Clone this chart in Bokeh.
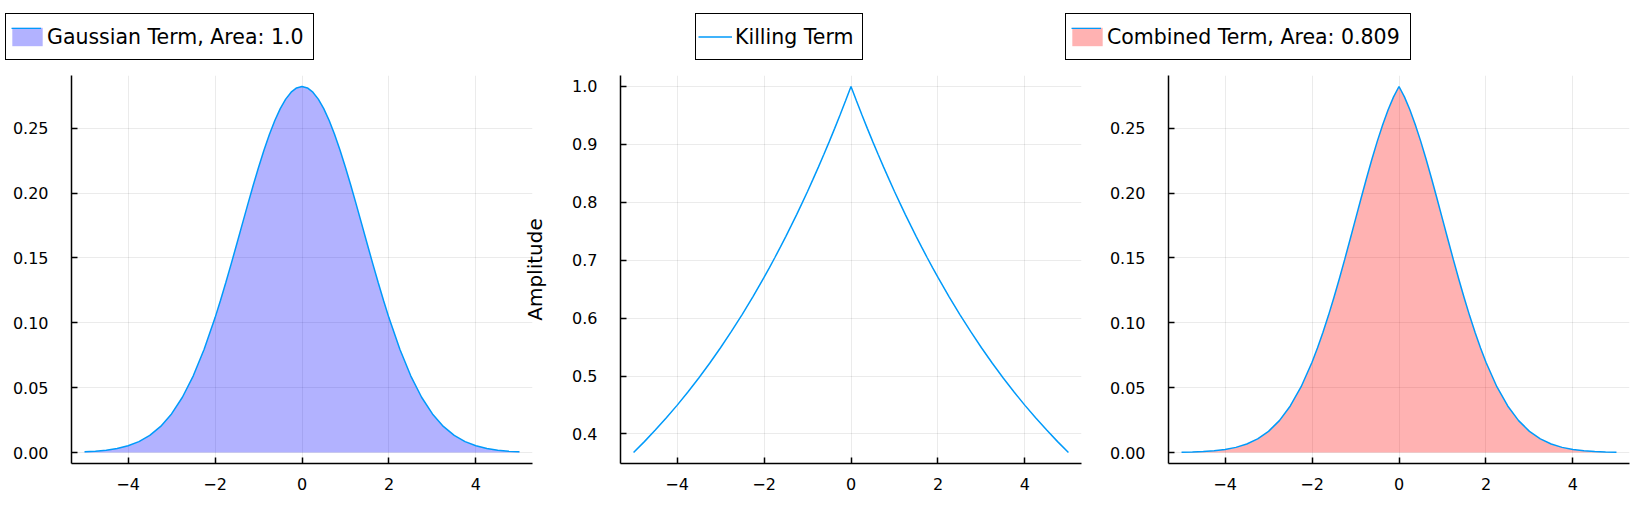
from bokeh.plotting import figure
from bokeh.models import Range1d, FixedTicker, Legend, LegendItem, NumeralTickFormatter
from bokeh.layouts import row, column
from bokeh.embed import file_html
from bokeh.resources import INLINE

# ---------------- data ----------------
x = [-5.0, -4.75, -4.5, -4.25, -4.0, -3.75, -3.5, -3.25, -3.0, -2.75, -2.5, -2.25, -2.0,
     -1.875, -1.75, -1.625, -1.5, -1.375, -1.25, -1.125, -1.0,
     -0.875, -0.75, -0.625, -0.5, -0.375, -0.25, -0.125, 0.0,
     0.125, 0.25, 0.375, 0.5, 0.625, 0.75, 0.875, 1.0,
     1.125, 1.25, 1.375, 1.5, 1.625, 1.75, 1.875,
     2.0, 2.25, 2.5, 2.75, 3.0, 3.25, 3.5, 3.75, 4.0, 4.25, 4.5, 4.75, 5.0]

gaussian = [0.00054, 0.00100, 0.00179, 0.00308, 0.00517, 0.00839, 0.01319, 0.02012,
            0.02973, 0.04259, 0.05913, 0.07957, 0.10378,
            0.11714, 0.13119, 0.14578, 0.16073, 0.17584, 0.19088, 0.20558, 0.21970,
            0.23295, 0.24509, 0.25585, 0.26500, 0.27235, 0.27772, 0.28100, 0.28210,
            0.28100, 0.27772, 0.27235, 0.26500, 0.25585, 0.24509, 0.23295, 0.21970,
            0.20558, 0.19088, 0.17584, 0.16073, 0.14578, 0.13119, 0.11714,
            0.10378, 0.07957, 0.05913, 0.04259, 0.02973, 0.02012, 0.01319, 0.00839,
            0.00517, 0.00308, 0.00179, 0.00100, 0.00054]

killing = [0.3679, 0.3867, 0.4066, 0.4274, 0.4493, 0.4724, 0.4966, 0.5220,
           0.5488, 0.5770, 0.6065, 0.6376, 0.6703,
           0.6873, 0.7047, 0.7225, 0.7408, 0.7596, 0.7788, 0.7985, 0.8187,
           0.8395, 0.8607, 0.8825, 0.9048, 0.9277, 0.9512, 0.9753, 1.0000,
           0.9753, 0.9512, 0.9277, 0.9048, 0.8825, 0.8607, 0.8395, 0.8187,
           0.7985, 0.7788, 0.7596, 0.7408, 0.7225, 0.7047, 0.6873,
           0.6703, 0.6376, 0.6065, 0.5770, 0.5488, 0.5220, 0.4966, 0.4724,
           0.4493, 0.4274, 0.4066, 0.3867, 0.3679]

combined = [0.00020, 0.00039, 0.00073, 0.00132, 0.00232, 0.00396, 0.00655, 0.01050,
            0.01632, 0.02457, 0.03586, 0.05074, 0.06956,
            0.08051, 0.09245, 0.10533, 0.11907, 0.13357, 0.14866, 0.16416, 0.17987,
            0.19555, 0.21095, 0.22579, 0.23979, 0.25267, 0.26418, 0.27406, 0.28210,
            0.27406, 0.26418, 0.25267, 0.23979, 0.22579, 0.21095, 0.19555, 0.17987,
            0.16416, 0.14866, 0.13357, 0.11907, 0.10533, 0.09245, 0.08051,
            0.06956, 0.05074, 0.03586, 0.02457, 0.01632, 0.01050, 0.00655, 0.00396,
            0.00232, 0.00132, 0.00073, 0.00039, 0.00020]

x_ticks = [-4, -2, 0, 2, 4]
x_tick_labels = ["\u22124", "\u22122", "0", "2", "4"]
density_y_ticks = [0.0, 0.05, 0.10, 0.15, 0.20, 0.25]
killing_y_ticks = [0.4, 0.5, 0.6, 0.7, 0.8, 0.9, 1.0]
legend_labels = ["Gaussian Term, Area: 1.0", "Killing Term", "Combined Term, Area: 0.809"]
y_label = "Amplitude"

# ---------------- style ----------------
FONT = "DejaVu Sans"
LINE = "#009AFA"
PAGE_W = 1644
LEG_H = 60
FRAME_W, FRAME_H = 461, 388
TOP, BOTTOM = 15, 43
LEG_FONT = "20.5px"


def padded(lo, hi, frac=0.03):
    d = (hi - lo) * frac
    return lo - d, hi + d


def make_fig(ylo, yhi, yticks, yfmt, bl, br, margin):
    x0, x1 = padded(min(x), max(x))
    y0, y1 = padded(ylo, yhi)
    p = figure(frame_width=FRAME_W, frame_height=FRAME_H,
               x_range=Range1d(x0, x1), y_range=Range1d(y0, y1),
               output_backend="svg", toolbar_location=None,
               min_border_left=bl, min_border_right=br,
               min_border_top=TOP, min_border_bottom=BOTTOM,
               border_fill_color=None, outline_line_color=None,
               background_fill_color="white", margin=margin)
    xt = FixedTicker(ticks=x_ticks)
    yt = FixedTicker(ticks=yticks)
    p.xaxis.ticker = xt
    p.yaxis.ticker = yt
    p.xgrid.ticker = xt
    p.ygrid.ticker = yt
    p.xaxis.major_label_overrides = dict(zip(x_ticks, x_tick_labels))
    p.yaxis.formatter = NumeralTickFormatter(format=yfmt)
    for ax in (p.xaxis[0], p.yaxis[0]):
        ax.axis_line_color = "black"
        ax.axis_line_width = 1.5
        ax.major_tick_line_color = "black"
        ax.major_tick_line_width = 1.5
        ax.major_tick_in = 6
        ax.major_tick_out = 0
        ax.minor_tick_line_color = None
        ax.major_label_text_font = FONT
        ax.major_label_text_font_size = "16px"
        ax.major_label_text_color = "black"
    p.xaxis.major_label_standoff = 14
    p.yaxis.major_label_standoff = 23
    for g in (p.xgrid[0], p.ygrid[0]):
        g.grid_line_color = "black"
        g.grid_line_alpha = 0.1
        g.grid_line_width = 0.8
    return p


def make_legend(items, loc, gw, standoff, lw):
    return Legend(items=items, location=loc, orientation="vertical",
                  padding=2, margin=0, spacing=0, label_standoff=standoff,
                  glyph_width=gw, glyph_height=23, label_width=lw, label_height=41,
                  label_text_font=FONT, label_text_font_size=LEG_FONT,
                  label_text_color="black",
                  border_line_color="black", border_line_width=1, border_line_alpha=1,
                  background_fill_color="white", background_fill_alpha=1)


def key_top_line(renderer, loc):
    # thin line drawn along the top edge of a filled legend key
    return Legend(items=[LegendItem(label="", renderers=[renderer])], location=loc,
                  padding=0, margin=0, spacing=0, label_standoff=0,
                  glyph_width=30, glyph_height=2, label_width=0, label_height=2,
                  label_text_font_size="1px",
                  border_line_color=None, background_fill_alpha=0)


ymin_d = min(0.0, min(gaussian))
ymax_d = max(gaussian)

# Panel 1: Gaussian term
p1 = make_fig(ymin_d, ymax_d, density_y_ticks, "0.00", 71, 28, (0, 0, 0, 0))
p1.varea(x=x, y1=0, y2=gaussian, fill_color="blue", fill_alpha=0.3)
p1.line(x=x, y=gaussian, line_color=LINE, line_width=1.5)

# Panel 2: Killing term
p2 = make_fig(min(killing), max(killing), killing_y_ticks, "0.0", 120, 28, (0, 0, 0, -60))
p2.line(x=x, y=killing, line_color=LINE, line_width=1.5)
p2.yaxis.axis_label = y_label
p2.yaxis.axis_label_text_font = FONT
p2.yaxis.axis_label_text_font_size = "20px"
p2.yaxis.axis_label_text_font_style = "normal"
p2.yaxis.axis_label_text_color = "black"
p2.yaxis.axis_label_standoff = 22

# Panel 3: Combined term
ymin_c = min(0.0, min(combined))
ymax_c = max(combined)
p3 = make_fig(ymin_c, ymax_c, density_y_ticks, "0.00", 118, 15, (0, 0, 0, -59))
p3.varea(x=x, y1=0, y2=combined, fill_color="red", fill_alpha=0.3)
p3.line(x=x, y=combined, line_color=LINE, line_width=1.5)

# Legend strip across the top (legend keys use hidden proxies of the same series)
lf = figure(frame_width=PAGE_W, frame_height=LEG_H, min_border=0,
            x_axis_type=None, y_axis_type=None, toolbar_location=None,
            output_backend="svg", outline_line_color=None,
            border_fill_color=None, background_fill_color=None,
            x_range=Range1d(0, 1), y_range=Range1d(0, 1))
k1 = lf.varea(x=x, y1=0, y2=gaussian, fill_color="blue", fill_alpha=0.3, visible=False)
k1l = lf.line(x=x, y=gaussian, line_color=LINE, line_width=1.5, visible=False)
k2 = lf.line(x=x, y=killing, line_color=LINE, line_width=1.5, visible=False)
k3 = lf.varea(x=x, y1=0, y2=combined, fill_color="red", fill_alpha=0.3, visible=False)
k3l = lf.line(x=x, y=combined, line_color=LINE, line_width=1.5, visible=False)
lf.add_layout(make_legend([LegendItem(label=legend_labels[0], renderers=[k1])], (5, 0), 38, 1, 264))
lf.add_layout(make_legend([LegendItem(label=legend_labels[1], renderers=[k2])], (695, 0), 34, 3, 125))
lf.add_layout(make_legend([LegendItem(label=legend_labels[2], renderers=[k3])], (1065, 0), 38, 1, 301))
lf.add_layout(key_top_line(k1l, (11, 31)))
lf.add_layout(key_top_line(k3l, (1071, 31)))

layout = column(lf, row(p1, p2, p3))
open("out.html", "w").write(file_html(layout, INLINE))
